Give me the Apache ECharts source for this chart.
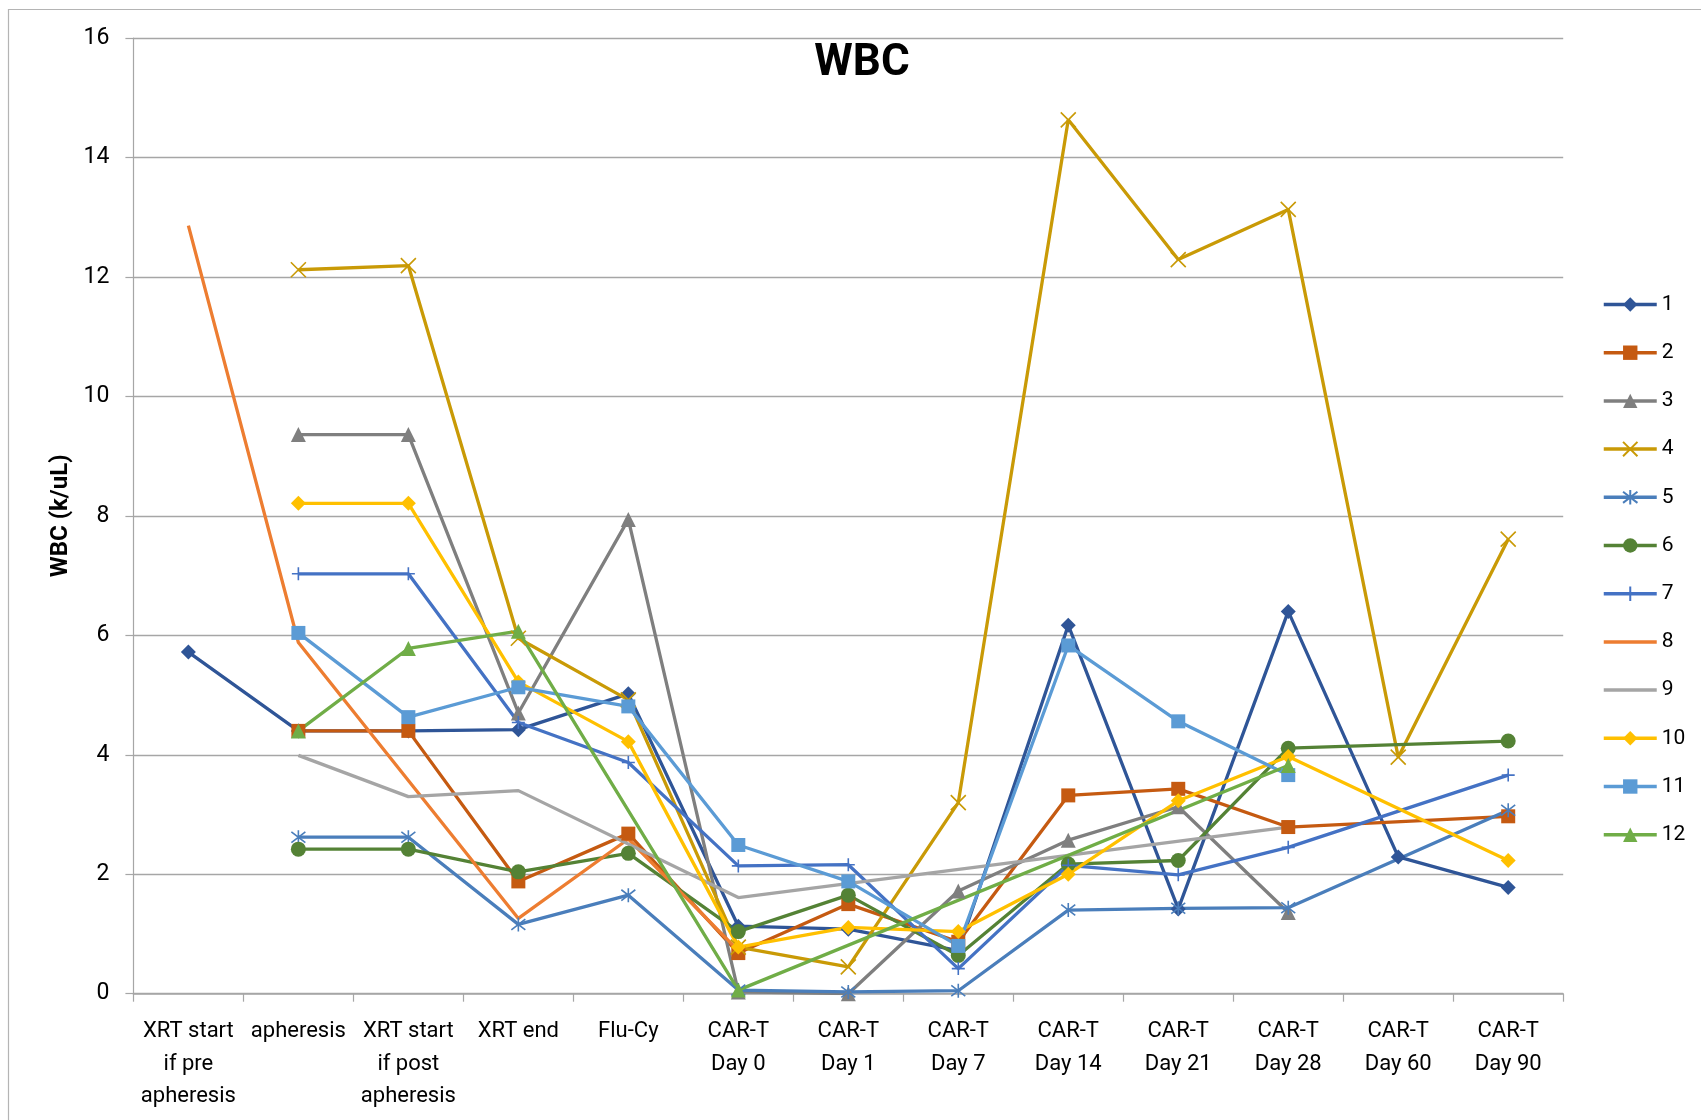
<!DOCTYPE html>
<html>
<head>
<meta charset="utf-8">
<script src="https://cdn.jsdelivr.net/npm/echarts@6/dist/echarts.min.js"></script>
<style>
html,body{margin:0;padding:0;background:#fff;}
#chart{width:1701px;height:1120px;}
</style>
</head>
<body>
<div id="chart"></div>
<script>
// ---- data ----
const categories = ['XRT start\nif pre\napheresis', 'apheresis', 'XRT start\nif post\napheresis', 'XRT end', 'Flu-Cy',
  'CAR-T\nDay 0', 'CAR-T\nDay 1', 'CAR-T\nDay 7', 'CAR-T\nDay 14', 'CAR-T\nDay 21', 'CAR-T\nDay 28', 'CAR-T\nDay 60', 'CAR-T\nDay 90'];
const yTicks = [0, 2, 4, 6, 8, 10, 12, 14, 16];
const seriesNames = ['1', '2', '3', '4', '5', '6', '7', '8', '9', '10', '11', '12'];
const s1 = [5.72, 4.40, 4.40, 4.42, 5.02, 1.13, 1.08, 0.72, 6.17, 1.42, 6.40, 2.29, 1.78];
const s2 = [null, 4.40, 4.40, 1.88, 2.68, 0.68, 1.50, 0.87, 3.32, 3.43, 2.79, null, 2.97];
const s3 = [null, 9.36, 9.36, 4.70, 7.94, 0.03, 0.00, 1.72, 2.57, 3.13, 1.36, null, null];
const s4 = [null, 12.12, 12.19, 5.95, 4.92, 0.78, 0.45, 3.20, 14.63, 12.29, 13.13, 3.96, 7.61];
const s5 = [null, 2.62, 2.62, 1.16, 1.65, 0.06, 0.03, 0.05, 1.40, 1.43, 1.44, null, 3.07];
const s6 = [null, 2.42, 2.42, 2.04, 2.35, 1.04, 1.65, 0.64, 2.17, 2.23, 4.11, null, 4.23];
const s7 = [null, 7.03, 7.03, 4.54, 3.87, 2.14, 2.16, 0.42, 2.15, 1.99, 2.45, null, 3.66];
const s8 = [12.86, 5.88, null, 1.26, 2.59, 0.72, null, null, null, null, null, null, null];
const s9 = [null, 3.99, 3.30, 3.40, null, 1.61, null, null, null, null, 2.79, null, null];
const s10 = [null, 8.21, 8.21, 5.22, 4.22, 0.78, 1.11, 1.04, 2.00, 3.23, 3.97, null, 2.23];
const s11 = [null, 6.04, 4.63, 5.13, 4.81, 2.49, 1.88, 0.80, 5.83, 4.56, 3.66, null, null];
const s12 = [null, 4.40, 5.78, 6.07, null, 0.06, null, null, null, null, 3.82, null, null];
const allSeries = [s1, s2, s3, s4, s5, s6, s7, s8, s9, s10, s11, s12];

// ---- styles ----
const colors = ['#2F5597', '#C55A11', '#7F7F7F', '#C99A06', '#4A7EBB', '#548235',
  '#4472C4', '#ED7D31', '#A5A5A5', '#FFC000', '#5B9BD5', '#70AD47'];
const SYM_X = 'path://M0,0L10,10M10,0L0,10';
const SYM_STAR = 'path://M0,0L10,10M10,0L0,10M5,-1.5L5,11.5';
const SYM_PLUS = 'path://M5,0L5,10M0,5L10,5';
const symbols = ['diamond', 'rect', 'triangle', SYM_X, SYM_STAR, 'circle',
  SYM_PLUS, 'none', 'none', 'diamond', 'rect', 'triangle'];
const symbolSizes = [15, 14, 15, 15, 14, 15, 13, 0, 0, 15, 14, 15];
const strokeSymbol = [false, false, false, true, true, false, true, false, false, false, false, false];

const FONT = 'Roboto';

const chart = echarts.init(document.getElementById('chart'), null, {renderer: 'canvas'});

const series = allSeries.map((d, i) => ({
  name: seriesNames[i],
  type: 'line',
  data: d,
  connectNulls: true,
  symbol: symbols[i],
  symbolSize: symbolSizes[i],
  showSymbol: symbols[i] !== 'none',
  lineStyle: {color: colors[i], width: 3.3},
  itemStyle: strokeSymbol[i]
    ? {color: colors[i], borderColor: colors[i], borderWidth: 1.6}
    : {color: colors[i], borderWidth: 0},
  emphasis: {disabled: true},
  animation: false
}));

const legendData = seriesNames.map((n, i) =>
  symbols[i] === 'none' ? {name: n, itemStyle: {opacity: 0}} : {name: n});

const option = {
  backgroundColor: '#ffffff',
  animation: false,
  title: {
    text: 'WBC',
    left: 862,
    top: 42,
    textAlign: 'center',
    padding: 0,
    textStyle: {fontFamily: FONT, fontSize: 44, fontWeight: 'bold', color: '#000'}
  },
  legend: {
    orient: 'vertical',
    left: 1597,
    top: 289,
    itemWidth: 53,
    itemHeight: 18,
    itemGap: 27.2,
    data: legendData,
    lineStyle: {width: 3.5},
    textStyle: {fontFamily: FONT, fontSize: 21, color: '#000', lineHeight: 20}
  },
  grid: {left: 133.4, right: 137.8, top: 38, bottom: 126.3, containLabel: false},
  xAxis: {
    type: 'category',
    data: categories,
    boundaryGap: true,
    axisLine: {show: true, lineStyle: {color: '#A6A6A6', width: 1.5}},
    axisTick: {show: true, alignWithLabel: false, inside: false, length: 8, lineStyle: {color: '#A6A6A6', width: 1.2}},
    axisLabel: {interval: 0, margin: 22, fontFamily: FONT, fontSize: 22, color: '#000', lineHeight: 32.5, align: 'center'},
    splitLine: {show: false}
  },
  yAxis: {
    type: 'value',
    min: yTicks[0],
    max: yTicks[yTicks.length - 1],
    interval: yTicks[1] - yTicks[0],
    name: 'WBC (k/uL)',
    nameLocation: 'middle',
    nameGap: 59,
    nameRotate: 90,
    nameTextStyle: {fontFamily: FONT, fontSize: 24, fontWeight: 'bold', color: '#000'},
    axisLine: {show: true, lineStyle: {color: '#A6A6A6', width: 1.2}},
    axisTick: {show: true, inside: false, length: 8, lineStyle: {color: '#A6A6A6', width: 1.2}},
    axisLabel: {margin: 24, fontFamily: FONT, fontSize: 23, color: '#000'},
    splitLine: {show: true, lineStyle: {color: '#A6A6A6', width: 1.3}}
  },
  graphic: [{
    type: 'rect',
    shape: {x: 8.5, y: 9.5, width: 1760, height: 1200},
    style: {fill: 'none', stroke: '#B4B4B4', lineWidth: 1.2},
    silent: true,
    z: 100
  }],
  series: series
};

chart.setOption(option);
</script>
</body>
</html>
